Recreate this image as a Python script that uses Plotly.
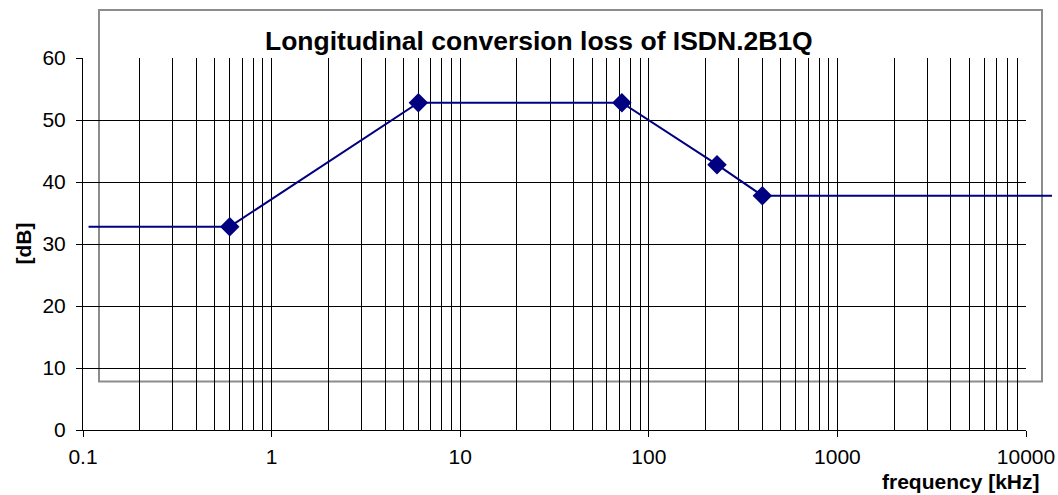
import plotly.graph_objects as go

# --- data ---
freq_khz = [0.6, 6, 72, 230, 400]          # measured points (diamonds)
loss_db = [32.8, 52.8, 52.8, 42.8, 37.8]
line_start_khz = 0.107                       # flat extension to the left
line_end_khz = 13800                         # flat extension to the right (past 10000)

x_ticks = [0.1, 1, 10, 100, 1000, 10000]
x_ticktext = ["0.1", "1", "10", "100", "1000", "10000"]
y_ticks = [0, 10, 20, 30, 40, 50, 60]

line_x = [line_start_khz] + freq_khz + [line_end_khz]
line_y = [loss_db[0]] + loss_db + [loss_db[-1]]

# minor grid: 2..9 inside every decade
minor_vals = [d * m for d in x_ticks[:-1] for m in range(2, 10)]

W, H = 1058, 495
ML, MT, MB = 83, 58, 65
MR = 6
plot_w = W - ML - MR
plot_h = H - MT - MB
main_w = 943                                 # 5 decades on the gridded axis
dom_main = main_w / plot_w
ext_range = [-1, -1 + 5 * plot_w / main_w]   # same scale, wider box for the overhanging line

FONT = "Arial, Liberation Sans, sans-serif"
NAVY = "#000080"


def px_x(p):
    # screen pixel -> paper x
    return (p - ML) / plot_w


def px_y(p):
    return (H - MB - p) / plot_h


fig = go.Figure()

# empty trace so the main (gridded) axes get drawn
fig.add_trace(go.Scatter(x=[], y=[], xaxis="x", yaxis="y", showlegend=False))

fig.add_trace(go.Scatter(
    x=line_x, y=line_y, mode="lines",
    line=dict(color=NAVY, width=2),
    xaxis="x2", yaxis="y2", showlegend=False, hoverinfo="skip"
))
fig.add_trace(go.Scatter(
    x=freq_khz, y=loss_db, mode="markers",
    marker=dict(symbol="diamond", size=15, color=NAVY, line=dict(width=0)),
    xaxis="x2", yaxis="y2", showlegend=False
))

# grey frame round the chart area (behind the grid)
fig.add_shape(type="rect", xref="paper", yref="paper",
              x0=px_x(99), x1=px_x(1042), y0=px_y(381.5), y1=px_y(10),
              line=dict(color="#8c8c8c", width=2), fillcolor="rgba(0,0,0,0)",
              layer="below")

fig.add_annotation(text="<b>Longitudinal conversion loss of ISDN.2B1Q</b>",
                   xref="paper", yref="paper", x=px_x(539), y=px_y(41),
                   xanchor="center", yanchor="middle", showarrow=False,
                   font=dict(family=FONT, size=26.5, color="black"))
fig.add_annotation(text="<b>frequency [kHz]</b>",
                   xref="paper", yref="paper", x=px_x(1042), y=px_y(481),
                   xanchor="right", yanchor="middle", showarrow=False,
                   font=dict(family=FONT, size=21, color="black"))
fig.add_annotation(text="<b>[dB]</b>", textangle=-90,
                   xref="paper", yref="paper", x=px_x(22.5), y=0.5,
                   xanchor="center", yanchor="middle", showarrow=False,
                   font=dict(family=FONT, size=21, color="black"))

fig.update_layout(
    width=W, height=H, autosize=False,
    margin=dict(l=ML, r=MR, t=MT, b=MB, pad=0),
    paper_bgcolor="white", plot_bgcolor="rgba(0,0,0,0)",
    font=dict(family=FONT, size=21, color="black"),
    showlegend=False,
    xaxis=dict(
        type="log", range=[-1, 4], domain=[0, dom_main], anchor="y",
        tickmode="array", tickvals=x_ticks, ticktext=x_ticktext,
        ticks="outside", ticklen=6, tickcolor="black",
        showgrid=True, gridcolor="black", gridwidth=1,
        showline=True, linecolor="black", linewidth=1,
        ticklabelstandoff=2, automargin=False,
        minor=dict(tickmode="array", tickvals=minor_vals, showgrid=True,
                   gridcolor="black", gridwidth=1, ticks=""),
        zeroline=False,
    ),
    yaxis=dict(
        range=[0, 60], tickmode="array", tickvals=y_ticks,
        ticks="outside", ticklen=6, tickcolor="black",
        showgrid=True, gridcolor="black", gridwidth=1,
        showline=True, linecolor="black", linewidth=1,
        ticklabelstandoff=6, zeroline=False, anchor="x", automargin=False,
    ),
    xaxis2=dict(type="log", range=ext_range, domain=[0, 1], anchor="y2",
                visible=False, showgrid=False, automargin=False),
    yaxis2=dict(range=[0, 60], anchor="x2", visible=False, showgrid=False,
                automargin=False),
)

# fixed size (no responsive resize), no modebar, and no 8px page margin
fig.write_html("out.html",
               config={"responsive": False, "displayModeBar": False},
               post_script="document.body.style.margin='0';"
                           "document.body.style.overflow='hidden';")
